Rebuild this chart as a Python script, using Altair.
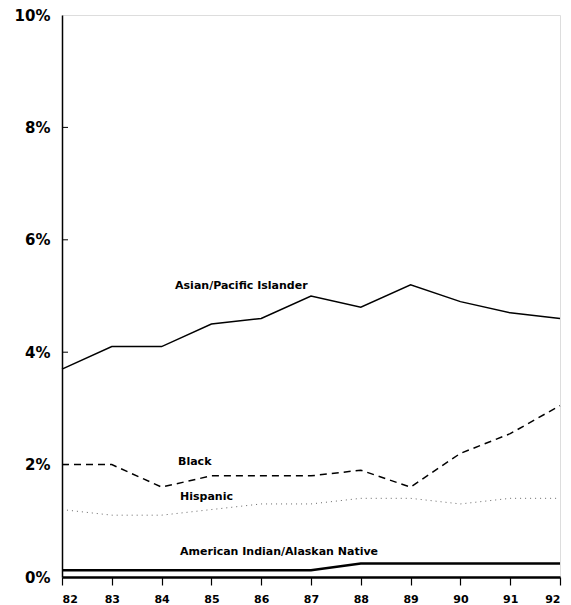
import altair as alt
import pandas as pd

years = [82, 83, 84, 85, 86, 87, 88, 89, 90, 91, 92]
asian = [3.7, 4.1, 4.1, 4.5, 4.6, 5.0, 4.8, 5.2, 4.9, 4.7, 4.6]
black = [2.0, 2.0, 1.6, 1.8, 1.8, 1.8, 1.9, 1.6, 2.2, 2.55, 3.05]
hispanic = [1.2, 1.1, 1.1, 1.2, 1.3, 1.3, 1.4, 1.4, 1.3, 1.4, 1.4]
amind = [0.12, 0.12, 0.12, 0.12, 0.12, 0.12, 0.24, 0.24, 0.24, 0.24, 0.24]

label_text = ["Asian/Pacific Islander", "Black", "Hispanic", "American Indian/Alaskan Native"]
label_x = [84.27, 84.33, 84.37, 84.37]
label_y = [5.18, 2.05, 1.42, 0.44]
ytick_vals = [2, 4, 6, 8]

xs = alt.Scale(domain=[82, 92], nice=False, zero=False)
ys = alt.Scale(domain=[0, 10], nice=False)

xax = alt.Axis(values=years, title=None, grid=False, labelFont="DejaVu Sans", labelFontWeight="bold",
               labelFontSize=11, labelColor="black", tickColor="black", tickSize=8, tickWidth=1.2,
               domainColor="black", domainWidth=2.5, labelPadding=8)
yax = alt.Axis(values=[0, 2, 4, 6, 8, 10], title=None, grid=False, labelExpr="datum.value + '%'",
               labelFont="DejaVu Sans", labelFontWeight="bold", labelFontSize=15, labelColor="black",
               ticks=False, domainColor="black", domainWidth=1.5, labelPadding=12)


def series(vals, **mk):
    df = pd.DataFrame({"year": years, "v": vals})
    return alt.Chart(df).mark_line(color="black", **mk).encode(
        x=alt.X("year:Q", scale=xs, axis=xax),
        y=alt.Y("v:Q", scale=ys, axis=yax),
    )


l_asian = series(asian, strokeWidth=1.5)
l_black = series(black, strokeWidth=1.5, strokeDash=[7, 5])
l_hisp = series(hispanic, strokeWidth=1, strokeDash=[1, 4], opacity=0.6)
l_ai = series(amind, strokeWidth=2.5)

ticks_df = pd.DataFrame({"t": ytick_vals})
yt = alt.Chart(ticks_df).mark_rule(color="black", strokeWidth=1).encode(
    y=alt.Y("t:Q", scale=ys, axis=yax), x=alt.value(0), x2=alt.value(6)
)

lab_df = pd.DataFrame({"name": label_text, "x": label_x, "y": label_y})
labels = alt.Chart(lab_df).mark_text(align="left", baseline="middle", font="DejaVu Sans",
                                     fontSize=11, fontWeight="bold", color="black").encode(
    x=alt.X("x:Q", scale=xs, axis=xax), y=alt.Y("y:Q", scale=ys, axis=yax), text="name:N"
)

chart = alt.layer(l_hisp, l_black, l_asian, l_ai, yt, labels).properties(
    width=498, height=562,
    autosize=alt.AutoSizeParams(type="none"),
    padding={"left": 54, "top": 7, "right": 3, "bottom": 28},
).configure_view(stroke="black", strokeWidth=1.5).configure(background="white")

chart.save("out.html", embed_options={"renderer": "svg", "actions": False})
